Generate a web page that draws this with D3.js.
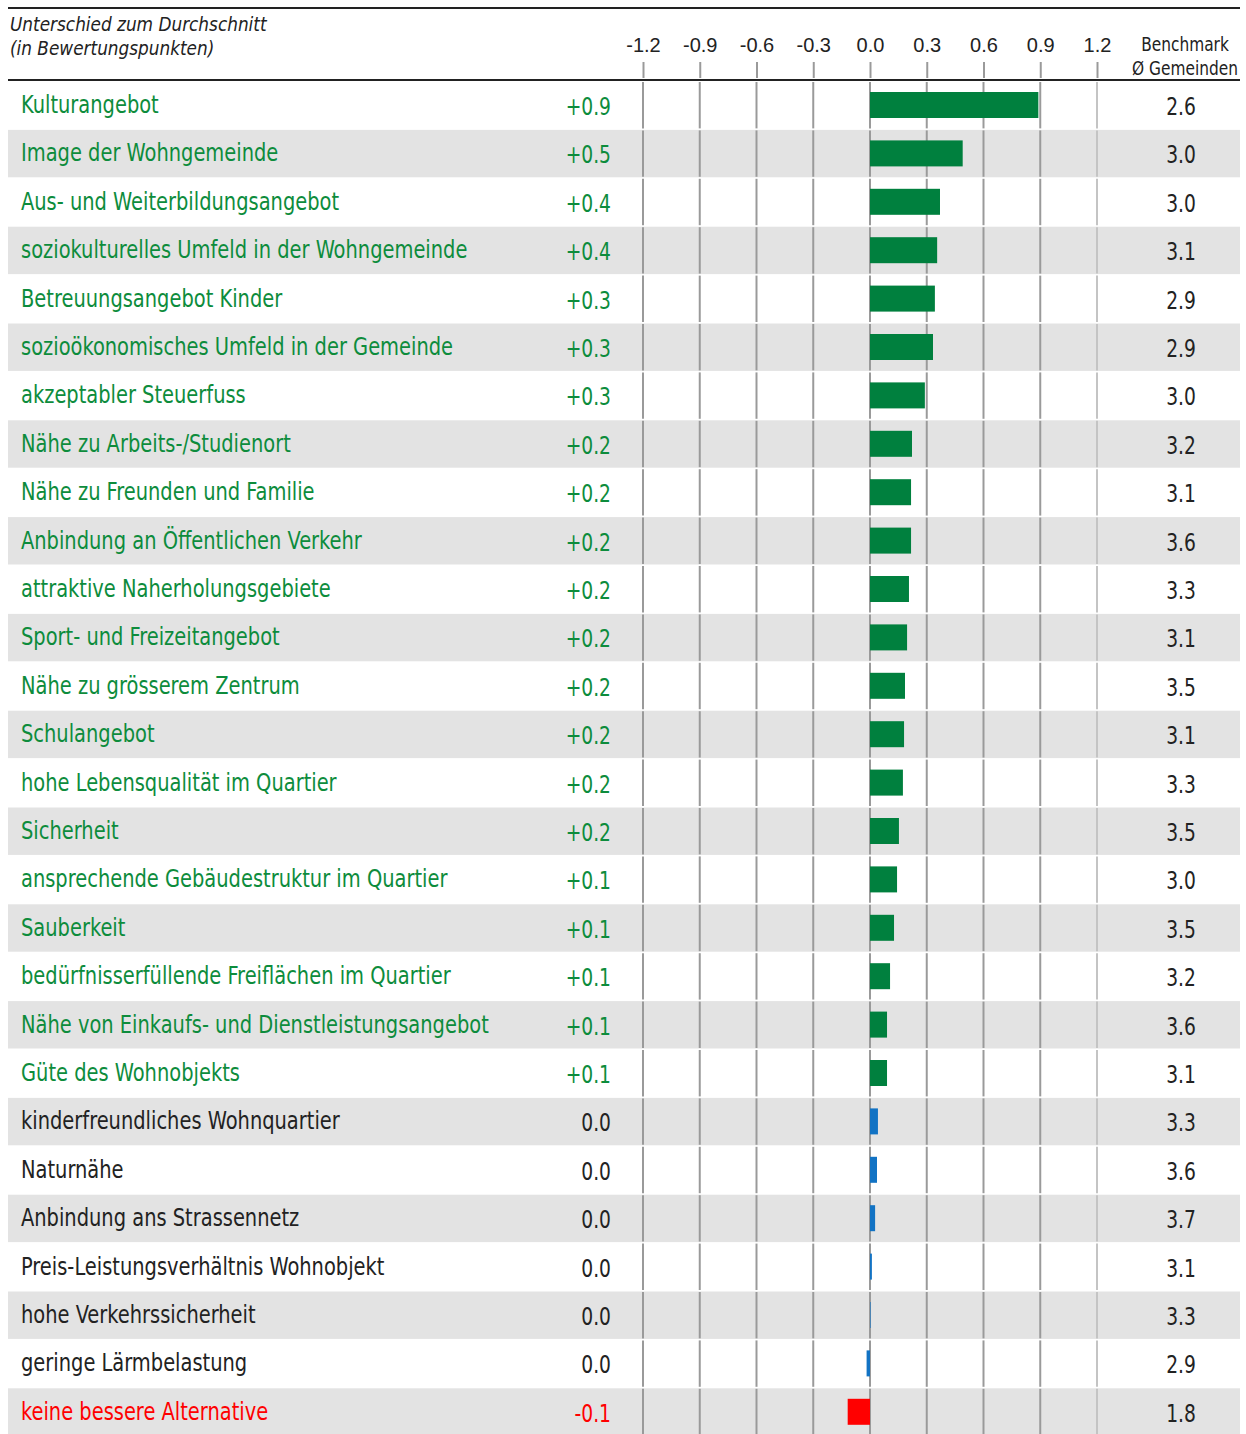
<!DOCTYPE html>
<html>
<head>
<meta charset="utf-8">
<script src="https://cdn.jsdelivr.net/npm/d3@7"></script>
<style>
  body { margin: 0; background: #fff; }
  .cond { font-family: "DejaVu Sans Condensed", "DejaVu Sans", sans-serif; }
</style>
</head>
<body>
<div id="chart"></div>
<script>
// categories, top to bottom
var labels = [
  "Kulturangebot", "Image der Wohngemeinde", "Aus- und Weiterbildungsangebot",
  "soziokulturelles Umfeld in der Wohngemeinde", "Betreuungsangebot Kinder",
  "sozioökonomisches Umfeld in der Gemeinde", "akzeptabler Steuerfuss",
  "Nähe zu Arbeits-/Studienort", "Nähe zu Freunden und Familie",
  "Anbindung an Öffentlichen Verkehr", "attraktive Naherholungsgebiete",
  "Sport- und Freizeitangebot", "Nähe zu grösserem Zentrum", "Schulangebot",
  "hohe Lebensqualität im Quartier", "Sicherheit",
  "ansprechende Gebäudestruktur im Quartier", "Sauberkeit",
  "bedürfnisserfüllende Freiflächen im Quartier",
  "Nähe von Einkaufs- und Dienstleistungsangebot", "Güte des Wohnobjekts",
  "kinderfreundliches Wohnquartier", "Naturnähe", "Anbindung ans Strassennetz",
  "Preis-Leistungsverhältnis Wohnobjekt", "hohe Verkehrssicherheit",
  "geringe Lärmbelastung", "keine bessere Alternative"
];
// difference to the average, as printed
var diffText = ["+0.9","+0.5","+0.4","+0.4","+0.3","+0.3","+0.3","+0.2","+0.2","+0.2",
  "+0.2","+0.2","+0.2","+0.2","+0.2","+0.2","+0.1","+0.1","+0.1","+0.1","+0.1",
  "0.0","0.0","0.0","0.0","0.0","0.0","-0.1"];
// bar lengths
var diffs = [0.89, 0.49, 0.37, 0.355, 0.343, 0.333, 0.29, 0.222, 0.217, 0.217,
  0.206, 0.196, 0.185, 0.18, 0.174, 0.153, 0.143, 0.127, 0.106, 0.09, 0.09,
  0.042, 0.037, 0.027, 0.01, 0.003, -0.018, -0.118];
// benchmark column
var benchmark = ["2.6","3.0","3.0","3.1","2.9","2.9","3.0","3.2","3.1","3.6","3.3","3.1",
  "3.5","3.1","3.3","3.5","3.0","3.5","3.2","3.6","3.1","3.3","3.6","3.7","3.1","3.3","2.9","1.8"];
var ticks = [-1.2, -0.9, -0.6, -0.3, 0, 0.3, 0.6, 0.9, 1.2];

var width = 1246, height = 1434;
var svg = d3.select("#chart").append("svg").attr("width", width).attr("height", height);

var x = d3.scaleLinear().domain([-1.2, 1.2]).range([643, 1097]);
var y = d3.scaleBand().domain(labels).range([81, 81 + 28 * 48.4]);

// condensed look: squeeze the text horizontally
var squeeze = 0.865;
function place(px, py, s) {
  return "translate(" + px + "," + py + ") scale(" + (s || squeeze) + ",1)";
}

function kind(i) {
  var v = +diffText[i];
  return v > 0 ? "pos" : (v < 0 ? "neg" : "zero");
}
var textColor = { pos: "#0d8c3c", zero: "#222", neg: "#ff0000" };
var barColor = { pos: "#00803e", zero: "#1273c4", neg: "#ff0000" };

// row backgrounds
svg.selectAll("rect.row").data(labels).enter().append("rect")
  .attr("class", "row")
  .attr("x", 8).attr("width", 1232)
  .attr("y", function(d) { return y(d) + 0.5; })
  .attr("height", y.bandwidth() - 1)
  .attr("fill", function(d, i) { return i % 2 ? "#e3e3e3" : "#fff"; });

// grid lines, one segment per row
ticks.forEach(function(t) {
  svg.append("g").selectAll("line").data(labels).enter().append("line")
    .attr("x1", x(t)).attr("x2", x(t))
    .attr("y1", function(d) { return y(d) + 1; })
    .attr("y2", function(d) { return y(d) + y.bandwidth() - 1; })
    .attr("stroke", t === 1.2 ? "#c4c4c4" : "#9a9a9a")
    .attr("stroke-width", 2);
});

// header axis
var axis = d3.axisTop(x).tickValues(ticks)
  .tickFormat(function(d) { return d.toFixed(1); })
  .tickSize(16).tickPadding(10);
var ax = svg.append("g").attr("transform", "translate(0,78)").call(axis);
ax.select(".domain").remove();
ax.selectAll(".tick line").attr("stroke", "#9a9a9a").attr("stroke-width", 2);
ax.selectAll(".tick text")
  .attr("font-family", "Liberation Sans, Arial, sans-serif")
  .attr("font-size", 20).attr("fill", "#222");

// bars
svg.selectAll("rect.bar").data(labels).enter().append("rect")
  .attr("class", "bar")
  .attr("x", function(d, i) { return x(Math.min(0, diffs[i])); })
  .attr("width", function(d, i) { return Math.abs(x(diffs[i]) - x(0)); })
  .attr("y", function(d) { return y(d) + 11; })
  .attr("height", 26)
  .attr("fill", function(d, i) { return barColor[kind(i)]; });

// row labels
svg.selectAll("text.lab").data(labels).enter().append("text")
  .attr("class", "lab cond")
  .attr("transform", function(d) { return place(21, y(d) + 32); })
  .attr("font-size", 25)
  .attr("fill", function(d, i) { return textColor[kind(i)]; })
  .text(function(d) { return d; });

// difference values
svg.selectAll("text.val").data(labels).enter().append("text")
  .attr("class", "val cond")
  .attr("text-anchor", "end")
  .attr("transform", function(d) { return place(611, y(d) + 34); })
  .attr("font-size", 24)
  .attr("fill", function(d, i) { return textColor[kind(i)]; })
  .text(function(d, i) { return diffText[i]; });

// benchmark values
svg.selectAll("text.bm").data(labels).enter().append("text")
  .attr("class", "bm cond")
  .attr("text-anchor", "middle")
  .attr("transform", function(d) { return place(1181, y(d) + 34); })
  .attr("font-size", 24)
  .attr("fill", "#222")
  .text(function(d, i) { return benchmark[i]; });

// header texts
var title = svg.append("text")
  .attr("transform", place(10, 0, 0.89))
  .attr("font-family", "DejaVu Sans, sans-serif")
  .attr("font-style", "italic").attr("font-size", 19).attr("fill", "#222");
title.append("tspan").attr("x", 0).attr("y", 31).text("Unterschied zum Durchschnitt");
title.append("tspan").attr("x", 0).attr("y", 55).text("(in Bewertungspunkten)");

var bmHead = svg.append("text").attr("class", "cond")
  .attr("transform", place(1185, 0, 0.9))
  .attr("font-size", 19).attr("fill", "#222").attr("text-anchor", "middle");
bmHead.append("tspan").attr("x", 0).attr("y", 51).text("Benchmark");
bmHead.append("tspan").attr("x", 0).attr("y", 75).text("Ø Gemeinden");

// top and header rules
svg.append("line").attr("x1", 8).attr("x2", 1240).attr("y1", 8).attr("y2", 8)
  .attr("stroke", "#222").attr("stroke-width", 2);
svg.append("line").attr("x1", 8).attr("x2", 1240).attr("y1", 80).attr("y2", 80)
  .attr("stroke", "#222").attr("stroke-width", 2);
</script>
</body>
</html>
